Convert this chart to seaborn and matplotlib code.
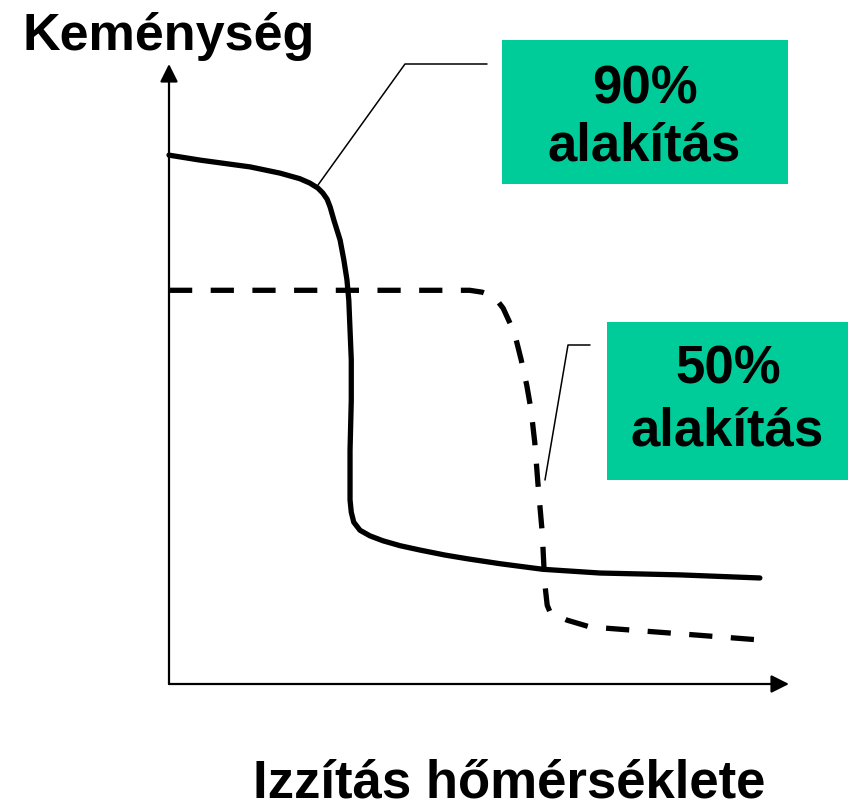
import numpy as np
import pandas as pd
import seaborn as sns
import matplotlib.pyplot as plt
from matplotlib.patches import Rectangle

# ---- data (arbitrary units: temperature 0..100, hardness 0..100) ----
temp_90 = [0.0, 5.0, 13.1, 17.9, 21.1, 22.7, 24.0, 24.8, 25.5, 26.0, 26.6, 27.6,
           28.2, 28.7, 29.0, 29.2, 29.4, 29.4, 29.2, 29.2, 29.4, 29.8, 30.8, 32.4,
           34.5, 37.3, 40.5, 44.5, 48.1, 53.4, 60.3, 69.5, 82.4, 95.3]
hard_90 = [85.3, 84.5, 83.4, 82.4, 81.5, 80.8, 80.0, 79.2, 78.2, 76.9, 74.8, 71.6,
           68.4, 65.2, 61.9, 57.1, 52.3, 45.8, 37.7, 29.7, 27.7, 26.1, 24.8, 23.9,
           23.1, 22.3, 21.6, 20.8, 20.2, 19.4, 18.5, 17.9, 17.6, 17.1]

temp_50 = [0.0, 21.1, 43.7, 48.5, 50.5, 51.8, 52.9, 53.9, 55.0, 56.0, 56.8, 57.7,
           58.4, 59.0, 59.5, 60.2, 60.6, 61.0, 61.5, 64.2, 67.9, 82.4, 95.3]
hard_50 = [63.5, 63.5, 63.5, 63.5, 63.2, 62.7, 61.9, 60.6, 58.2, 55.5, 52.3, 48.2,
           44.2, 38.9, 32.4, 24.4, 16.3, 12.7, 11.5, 10.3, 9.2, 8.1, 7.1]

y_label = "Keménység"
x_label = "Izzítás hőmérséklete"
label_90 = ["90%", "alakítás"]
label_50 = ["50%", "alakítás"]
box_color = "#00CC99"

# ---- figure ----
sns.set_theme(style="white")
plt.rcParams['font.family'] = ['Liberation Sans', 'DejaVu Sans']

W, H = 848, 809
fig = plt.figure(figsize=(W / 100, H / 100), dpi=100)
fig.patch.set_facecolor("white")

# overlay in pixel coordinates for annotations
pax = fig.add_axes([0, 0, 1, 1])
pax.set_xlim(0, W)
pax.set_ylim(H, 0)
pax.axis("off")

X0, Y0, S = 169, 684, 6.2
ax = fig.add_axes([X0 / W, (H - Y0) / H, 100 * S / W, 100 * S / H])
ax.set_xlim(0, 100)
ax.set_ylim(0, 100)
ax.axis("off")

df90 = pd.DataFrame({"temp": temp_90, "hard": hard_90})
df50 = pd.DataFrame({"temp": temp_50, "hard": hard_50})

sns.lineplot(data=df90, x="temp", y="hard", sort=False, estimator=None,
             color="black", lw=3.8, ax=ax)
sns.lineplot(data=df50, x="temp", y="hard", sort=False, estimator=None,
             color="black", lw=3.8, ax=ax)
lines = ax.get_lines()
for ln in lines:
    ln.set_clip_on(False)
    ln.set_solid_joinstyle("round")
lines[1].set_dashes((4.4, 3.5))

# axes arrows
arrow = dict(arrowstyle="-|>,head_length=0.6,head_width=0.3", mutation_scale=18,
             lw=1.6, color="black", shrinkA=0, shrinkB=0)
ax.annotate("", xy=(0, 100), xytext=(0, 0), arrowprops=arrow)
ax.annotate("", xy=(100, 0), xytext=(0, 0), arrowprops=arrow)

# leader lines
pax.plot([318, 405, 487], [185, 64, 64], color="black", lw=1.1)
pax.plot([545, 568, 590], [480, 345, 345], color="black", lw=1.1)

# green boxes
pax.add_patch(Rectangle((502, 40), 286, 144, facecolor=box_color, lw=0))
pax.add_patch(Rectangle((607, 322), 241, 158, facecolor=box_color, lw=0))

tkw = dict(ha="center", va="baseline", fontsize=38, fontweight="bold", color="black")
pax.text(645, 103, label_90[0], **tkw)
pax.text(644, 160, label_90[1], **tkw)
pax.text(728, 383, label_50[0], **tkw)
pax.text(727, 445, label_50[1], **tkw)

pax.text(22, 50, y_label, ha="left", va="baseline", fontsize=37.5,
         fontweight="bold", color="black")
pax.text(509, 798, x_label, ha="center", va="baseline", fontsize=38,
         fontweight="bold", color="black")

fig.savefig("out.png", dpi=100)
